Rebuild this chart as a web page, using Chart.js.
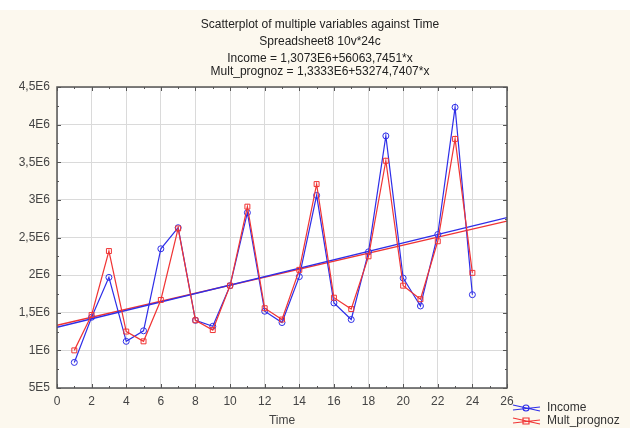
<!DOCTYPE html>
<html>
<head>
<meta charset="utf-8">
<script src="https://cdn.jsdelivr.net/npm/chart.js@4.4.1/dist/chart.umd.min.js"></script>
<style>
  html, body { margin: 0; padding: 0; background: #fcf8ee; }
  #wrap { width: 630px; height: 428px; position: relative; }
</style>
</head>
<body>
<div id="wrap"><canvas id="c" width="630" height="428"></canvas></div>
<script>
// ---- data ----
const timePoints = [1,2,3,4,5,6,7,8,9,10,11,12,13,14,15,16,17,18,19,20,21,22,23,24];
const income = [0.84e6,1.44e6,1.97e6,1.12e6,1.26e6,2.35e6,2.63e6,1.40e6,1.32e6,1.86e6,2.83e6,1.52e6,1.37e6,1.98e6,3.06e6,1.63e6,1.41e6,2.31e6,3.85e6,1.96e6,1.59e6,2.54e6,4.23e6,1.74e6];
const multPrognoz = [1.00e6,1.47e6,2.32e6,1.25e6,1.12e6,1.67e6,2.62e6,1.40e6,1.27e6,1.86e6,2.91e6,1.56e6,1.41e6,2.07e6,3.21e6,1.70e6,1.55e6,2.25e6,3.52e6,1.86e6,1.68e6,2.45e6,3.81e6,2.03e6];
const seriesNames = ["Income", "Mult_prognoz"];
const fitIntercepts = [1.3073e6, 1.3333e6];
const fitSlopes = [56063.7451, 53274.7407];
const fitRange = [0, 26];
const titleLines = [
  "Scatterplot of multiple variables against Time",
  "Spreadsheet8 10v*24c",
  "Income = 1,3073E6+56063,7451*x",
  "Mult_prognoz = 1,3333E6+53274,7407*x"
];
const yTickValues = [5e5,1e6,1.5e6,2e6,2.5e6,3e6,3.5e6,4e6,4.5e6];
const yTickLabels = ["5E5","1E6","1,5E6","2E6","2,5E6","3E6","3,5E6","4E6","4,5E6"];
const xTickValues = [0,2,4,6,8,10,12,14,16,18,20,22,24,26];
const xTickLabels = ["0","2","4","6","8","10","12","14","16","18","20","22","24","26"];
const xAxisTitle = "Time";

// ---- styles ----
const BLUE = "#2e2ee8";
const RED = "#f03434";
const FONT = "'Liberation Sans', Arial, sans-serif";

function pts(xs, ys) { return xs.map((x, i) => ({ x: x, y: ys[i] })); }
function fitPts(k) {
  return fitRange.map(x => ({ x: x, y: fitIntercepts[k] + fitSlopes[k] * x }));
}

const bgPlugin = {
  id: 'bg',
  beforeDraw(chart) {
    const { ctx, chartArea: a } = chart;
    ctx.save();
    ctx.fillStyle = "#fcf8ee";
    ctx.fillRect(0, 0, chart.width, chart.height);
    ctx.fillStyle = "#ffffff";
    ctx.fillRect(0, 0, chart.width, 10);
    ctx.fillRect(a.left, a.top, a.right - a.left, a.bottom - a.top);
    ctx.restore();
  },
  afterDraw(chart) {
    const { ctx, chartArea: a, scales } = chart;
    ctx.save();
    // title
    ctx.fillStyle = "#222";
    ctx.font = "12px " + FONT;
    ctx.textAlign = "center";
    ctx.textBaseline = "middle";
    const ty = [25, 42, 59, 72];
    titleLines.forEach((t, i) => ctx.fillText(t, 320, ty[i]));
    // frame
    ctx.strokeStyle = "#555";
    ctx.lineWidth = 1.5;
    ctx.strokeRect(a.left, a.top, a.right - a.left, a.bottom - a.top);
    // inward ticks
    ctx.lineWidth = 1;
    ctx.strokeStyle = "#555";
    const xs = scales.x, ys = scales.y;
    for (let v = 0; v <= 26; v += 1) {
      const px = Math.round(xs.getPixelForValue(v)) + 0.5;
      const len = (v % 2 === 0) ? 4 : 2;
      ctx.beginPath();
      ctx.moveTo(px, a.bottom); ctx.lineTo(px, a.bottom - len);
      ctx.moveTo(px, a.top); ctx.lineTo(px, a.top + len);
      ctx.stroke();
    }
    for (let v = 5e5; v <= 4.5e6 + 1; v += 2.5e5) {
      const py = Math.round(ys.getPixelForValue(v)) + 0.5;
      const len = (Math.round(v / 2.5e5) % 2 === 0) ? 4 : 2;
      ctx.beginPath();
      ctx.moveTo(a.left, py); ctx.lineTo(a.left + len, py);
      ctx.moveTo(a.right, py); ctx.lineTo(a.right - len, py);
      ctx.stroke();
    }
    // legend
    const items = [
      { name: seriesNames[0], color: BLUE, style: 'circle', y: 408 },
      { name: seriesNames[1], color: RED, style: 'rect', y: 421 }
    ];
    items.forEach(it => {
      ctx.strokeStyle = it.color;
      ctx.lineWidth = 1.2;
      ctx.beginPath();
      ctx.moveTo(513, it.y - 3); ctx.lineTo(540, it.y + 3);
      ctx.moveTo(513, it.y + 2); ctx.lineTo(540, it.y - 1);
      ctx.stroke();
      ctx.beginPath();
      if (it.style === 'circle') ctx.arc(526, it.y, 3, 0, Math.PI * 2);
      else ctx.rect(523, it.y - 3, 6, 6);
      ctx.stroke();
      ctx.fillStyle = "#333";
      ctx.textAlign = "left";
      ctx.font = "12px " + FONT;
      ctx.fillText(it.name, 547, it.y);
    });
    ctx.restore();
  }
};

new Chart(document.getElementById('c'), {
  type: 'line',
  data: {
    datasets: [
      {
        label: seriesNames[1], data: pts(timePoints, multPrognoz), order: 1,
        borderColor: RED, borderWidth: 1.2, backgroundColor: 'rgba(0,0,0,0)',
        pointStyle: 'rect', pointRadius: 3.5, pointBorderWidth: 1, pointBorderColor: RED,
        pointBackgroundColor: 'rgba(255,255,255,0)', tension: 0
      },
      {
        label: seriesNames[0], data: pts(timePoints, income), order: 2,
        borderColor: BLUE, borderWidth: 1.2, backgroundColor: 'rgba(0,0,0,0)',
        pointStyle: 'circle', pointRadius: 3, pointBorderWidth: 1, pointBorderColor: BLUE,
        pointBackgroundColor: 'rgba(255,255,255,0)', tension: 0
      },
      {
        label: seriesNames[0] + " fit", data: fitPts(0), order: 3,
        borderColor: BLUE, borderWidth: 1.4, pointRadius: 0, tension: 0
      },
      {
        label: seriesNames[1] + " fit", data: fitPts(1), order: 4,
        borderColor: RED, borderWidth: 1.4, pointRadius: 0, tension: 0
      }
    ]
  },
  options: {
    responsive: false,
    animation: false,
    layout: { padding: { left: 0, right: 123, top: 87, bottom: 0 } },
    plugins: { legend: { display: false }, title: { display: false }, tooltip: { enabled: false } },
    scales: {
      x: {
        type: 'linear', min: 0, max: 26,
        afterBuildTicks: s => { s.ticks = xTickValues.map(v => ({ value: v })); },
        afterFit: s => { s.height = 40; },
        grid: { color: '#dadada', lineWidth: 1, drawTicks: false },
        border: { display: false },
        ticks: {
          padding: 6, color: '#444', font: { family: FONT, size: 12 },
          maxRotation: 0, autoSkip: false,
          callback: v => { const i = xTickValues.indexOf(v); return i >= 0 ? xTickLabels[i] : ''; }
        },
        title: { display: true, text: xAxisTitle, color: '#444', font: { family: FONT, size: 12 }, padding: { top: 4, bottom: 0 } }
      },
      y: {
        type: 'linear', min: 5e5, max: 4.5e6,
        afterBuildTicks: s => { s.ticks = yTickValues.map(v => ({ value: v })); },
        afterFit: s => { s.width = 57; },
        grid: { color: '#dadada', lineWidth: 1, drawTicks: false },
        border: { display: false },
        ticks: {
          padding: 7, color: '#444', font: { family: FONT, size: 12 }, autoSkip: false,
          callback: v => { const i = yTickValues.indexOf(v); return i >= 0 ? yTickLabels[i] : ''; }
        }
      }
    }
  },
  plugins: [bgPlugin]
});
</script>
</body>
</html>
